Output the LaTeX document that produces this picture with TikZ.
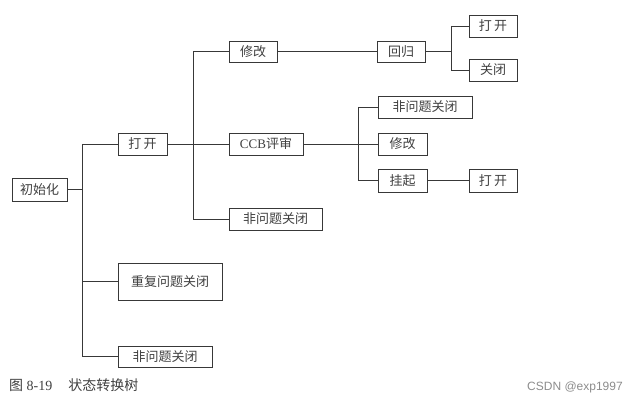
\documentclass[tikz,border=0pt]{standalone}
\usepackage{fontspec}
\setmainfont{Liberation Serif}
\newfontfamily\cjk{Noto Sans CJK SC}
\newfontfamily\wmfont{Liberation Sans}
\begin{document}
\begin{tikzpicture}[x=1pt,y=-1pt,
  line/.style={draw=black!78,line width=0.95pt},
  bx/.style={draw=black!78,line width=0.95pt,fill=white,inner sep=0pt,minimum height=22pt,
    text=black!75,font=\cjk\fontsize{13}{15}\selectfont}]
\useasboundingbox (0,0) rectangle (640,403);
\coordinate (j1) at (82,0);
\coordinate (j2) at (193,0);
\coordinate (j3) at (358,0);
\coordinate (j4) at (451,0);
% nodes
\node[bx,minimum width=55pt,minimum height=23pt] (init) at (39.5,189.5) {初始化};
\node[bx,minimum width=49pt] (open1) at (142.5,144) {打\,开};
\node[bx,minimum width=48pt,minimum height=21pt] (mod1) at (253,51.5) {修改};
\node[bx,minimum width=74pt] (ccb) at (266,144) {{\rmfamily CCB}评审};
\node[bx,minimum width=93pt] (nonq1) at (275.5,219) {非问题关闭};
\node[bx,minimum width=48pt,minimum height=21pt] (reg) at (401,51.5) {回归};
\node[bx,minimum width=48pt] (open2) at (493,26) {打\,开};
\node[bx,minimum width=48pt] (close) at (493,70) {关闭};
\node[bx,minimum width=94pt] (nonq2) at (425,107) {非问题关闭};
\node[bx,minimum width=49pt] (mod2) at (402.5,144) {修改};
\node[bx,minimum width=49pt,minimum height=23pt] (hang) at (402.5,180.5) {挂起};
\node[bx,minimum width=48pt,minimum height=23pt] (open3) at (493,180.5) {打\,开};
\node[bx,minimum width=104pt,minimum height=37pt] (dup) at (170,281.5) {重复问题关闭};
\node[bx,minimum width=94pt,minimum height=21pt] (nonq3) at (165,356.5) {非问题关闭};
% connectors: stem, trunk, branches (no overlaps)
\draw[line] (init.east) -- (init.east -| j1);
\draw[line] (open1.west -| j1) -- (nonq3.west -| j1);
\foreach \c in {open1,dup,nonq3} \draw[line] (\c.west -| j1) -- (\c.west);
\draw[line] (open1.east) -- (open1.east -| j2);
\draw[line] (mod1.west -| j2) -- (nonq1.west -| j2);
\foreach \c in {mod1,ccb,nonq1} \draw[line] (\c.west -| j2) -- (\c.west);
\draw[line] (mod1.east) -- (reg.west);
\draw[line] (reg.east) -- (reg.east -| j4);
\draw[line] (open2.west -| j4) -- (close.west -| j4);
\foreach \c in {open2,close} \draw[line] (\c.west -| j4) -- (\c.west);
\draw[line] (ccb.east) -- (ccb.east -| j3);
\draw[line] (nonq2.west -| j3) -- (hang.west -| j3);
\foreach \c in {nonq2,mod2,hang} \draw[line] (\c.west -| j3) -- (\c.west);
\draw[line] (hang.east) -- (open3.west);
% caption
\node[anchor=west,inner sep=0pt,text=black!75,font=\fontsize{14}{16}\selectfont] (cap) at (9,385)
  {{\cjk 图} 8-19\hspace{16pt}{\cjk 状态转换树}};
\node[anchor=west,inner sep=0pt,text=black!45,font=\wmfont\fontsize{12}{14}\selectfont] (wm) at (527,387) {CSDN @exp1997};
\end{tikzpicture}
\end{document}
